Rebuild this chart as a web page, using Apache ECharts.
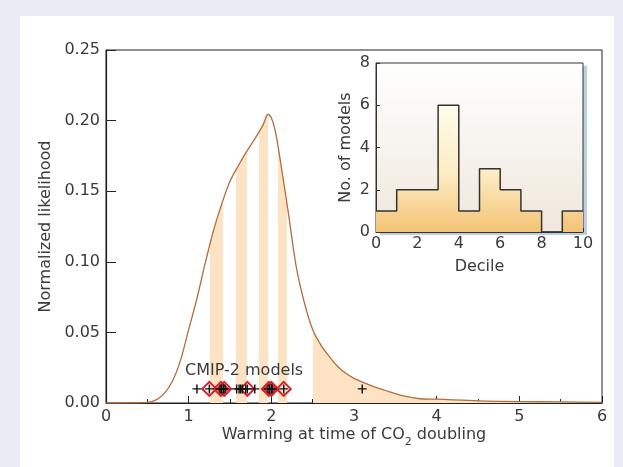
<!DOCTYPE html>
<html>
<head>
<meta charset="utf-8">
<script src="https://cdn.jsdelivr.net/npm/echarts@6/dist/echarts.min.js"></script>
<style>
  html, body { margin: 0; padding: 0; background: #ebebf5; }
  #panel { position: absolute; left: 20px; top: 16px; width: 594px; height: 451px; background: #fff; }
  #chart { position: absolute; left: 0; top: 0; width: 623px; height: 467px; }
</style>
</head>
<body>
<div id="panel"></div>
<div id="chart"></div>
<script>
// likelihood curve (warming, normalized likelihood)
const warming = [0, 0.5, 0.6, 0.7, 0.8, 0.9, 1.0, 1.1, 1.2, 1.3, 1.4, 1.5, 1.6, 1.7, 1.8, 1.9, 1.96, 2.0, 2.05, 2.1, 2.2, 2.3, 2.4, 2.5, 2.6, 2.7, 2.8, 2.9, 3.0, 3.2, 3.4, 3.6, 3.8, 4.0, 4.5, 5.0, 5.5, 6.0]
const likelihood = [0, 0.0005, 0.002, 0.0065, 0.015, 0.03, 0.052, 0.074, 0.099, 0.122, 0.141, 0.157, 0.168, 0.178, 0.187, 0.197, 0.2045, 0.202, 0.192, 0.175, 0.137, 0.097, 0.071, 0.052, 0.041, 0.033, 0.026, 0.021, 0.0175, 0.0125, 0.0085, 0.005, 0.003, 0.0027, 0.0015, 0.001, 0.0008, 0.0005]
// shaded decile bands under the curve
const bandEdges = [[1.26, 1.42], [1.575, 1.71], [1.845, 1.96], [2.075, 2.195], [2.51, 6]]
// CMIP-2 model warming values
const modelWarming = [1.10, 1.25, 1.38, 1.40, 1.42, 1.44, 1.58, 1.61, 1.63, 1.65, 1.69, 1.71, 1.80, 1.96, 1.98, 2.00, 2.01, 2.15, 3.10]
const highlighted = [1.25, 1.39, 1.43, 1.71, 1.97, 2.00, 2.15]
const markerRowY = 0.01
// inset histogram
const decile = [0, 1, 2, 3, 4, 5, 6, 7, 8, 9, 10]
const modelCount = [1, 2, 2, 6, 1, 3, 2, 1, 0, 1, 1]

const textColor = '#3a3a3a'
const font = 'DejaVu Sans'

let chart = echarts.init(document.getElementById('chart'))

let insetRect = { left: 376, top: 63, width: 207, height: 169 }

let option = {
    backgroundColor: 'transparent',
    textStyle: { fontFamily: font },
    grid: [
        { left: 106, top: 50, width: 496, height: 353, show: true, borderColor: '#222', borderWidth: 1, backgroundColor: 'transparent' },
        Object.assign({
            show: true, borderWidth: 0,
            backgroundColor: new echarts.graphic.LinearGradient(0, 0, 0, 1, [
                { offset: 0, color: '#ffffff' },
                { offset: 1, color: '#efe7dc' }
            ]),
            shadowColor: '#b9cfe3', shadowOffsetX: 4, shadowOffsetY: 3, shadowBlur: 0
        }, insetRect),
        // frame only, drawn over the inset background
        Object.assign({ show: true, borderColor: '#333', borderWidth: 1, backgroundColor: 'transparent' }, insetRect)
    ],
    xAxis: [
        {
            type: 'value', gridIndex: 0, min: 0, max: 6, interval: 1,
            name: 'Warming at time of CO{sub|2} doubling', nameLocation: 'middle', nameGap: 19, nameMoveOverlap: false,
            nameTextStyle: { fontSize: 16, color: textColor, lineHeight: 26, rich: { sub: { fontSize: 11, lineHeight: 11, verticalAlign: 'bottom', color: textColor } } },
            axisLine: { lineStyle: { color: '#222', width: 1.2 } },
            axisTick: { inside: true, length: 7, lineStyle: { color: '#222' } },
            minorTick: { show: true, splitNumber: 2, length: 4, lineStyle: { color: '#222' } },
            axisLabel: { fontSize: 16, color: textColor, margin: 6 },
            splitLine: { show: false }
        },
        {
            type: 'value', gridIndex: 1, min: 0, max: 10, interval: 2,
            name: 'Decile', nameLocation: 'middle', nameGap: 27,
            nameTextStyle: { fontSize: 16, color: textColor },
            axisLine: { lineStyle: { color: '#333' } },
            axisTick: { inside: true, length: 4, lineStyle: { color: '#333' } },
            minorTick: { show: true, splitNumber: 2, length: 3, lineStyle: { color: '#333' } },
            axisLabel: { fontSize: 16, color: textColor, margin: 4 },
            splitLine: { show: false }
        },
        { type: 'value', gridIndex: 2, min: 0, max: 10, show: false }
    ],
    yAxis: [
        {
            type: 'value', gridIndex: 0, min: 0, max: 0.25, interval: 0.05,
            name: 'Normalized likelihood', nameLocation: 'middle', nameGap: 52,
            nameTextStyle: { fontSize: 16, color: textColor },
            axisLine: { show: true, lineStyle: { color: '#222', width: 1.2 } },
            axisTick: { show: true, inside: true, length: 10, lineStyle: { color: '#222' } },
            axisLabel: { fontSize: 16, color: textColor, margin: 6, formatter: v => v.toFixed(2) },
            splitLine: { show: false }
        },
        {
            type: 'value', gridIndex: 1, min: 0, max: 8, interval: 2,
            name: 'No. of models', nameLocation: 'middle', nameGap: 22,
            nameTextStyle: { fontSize: 16, color: textColor },
            axisLine: { show: true, lineStyle: { color: '#333' } },
            axisTick: { show: true, inside: true, length: 4, lineStyle: { color: '#333' } },
            axisLabel: { fontSize: 16, color: textColor, margin: 6 },
            splitLine: { show: false }
        },
        { type: 'value', gridIndex: 2, min: 0, max: 8, show: false }
    ],
    visualMap: {
        type: 'piecewise', show: false, dimension: 0, seriesIndex: 0,
        pieces: bandEdges.map(b => ({ gte: b[0], lte: b[1], color: '#fde2c4' })),
        outOfRange: { color: 'rgba(255,255,255,0)' }
    },
    graphic: [
        { type: 'text', left: 185, top: 363, z: 100, style: { text: 'CMIP-2 models', fontSize: 16, fontFamily: font, fill: textColor } }
    ],
    series: [
        {
            // likelihood curve with shaded bands
            type: 'line', xAxisIndex: 0, yAxisIndex: 0, smooth: 0.3, symbol: 'none',
            data: warming.map((w, i) => [w, likelihood[i]]),
            lineStyle: { color: '#b36d3d', width: 1.3 },
            areaStyle: { opacity: 1 },
            z: 2
        },
        {
            type: 'scatter', xAxisIndex: 0, yAxisIndex: 0, symbol: 'diamond', symbolSize: 14,
            data: highlighted.map(v => [v, markerRowY]),
            itemStyle: { color: 'rgba(0,0,0,0)', borderColor: '#d3202a', borderWidth: 2, opacity: 1 },
            z: 3
        },
        {
            type: 'scatter', xAxisIndex: 0, yAxisIndex: 0,
            symbol: 'path://M4.2,0H5.8V4.2H10V5.8H5.8V10H4.2V5.8H0V4.2H4.2Z', symbolSize: 9,
            data: modelWarming.map(v => [v, markerRowY]),
            itemStyle: { color: '#111', opacity: 1 },
            z: 4
        },
        {
            // inset histogram
            type: 'line', xAxisIndex: 1, yAxisIndex: 1, step: 'end', symbol: 'none',
            data: decile.map((d, i) => [d, modelCount[i]]),
            lineStyle: { color: '#333', width: 1.5 },
            areaStyle: {
                opacity: 1,
                color: new echarts.graphic.LinearGradient(0, 0, 0, 1, [
                    { offset: 0, color: '#fffdec' },
                    { offset: 0.55, color: '#fcecc2' },
                    { offset: 1, color: '#f3c275' }
                ])
            },
            z: 2
        }
    ]
}
chart.setOption(option)
</script>
</body>
</html>
